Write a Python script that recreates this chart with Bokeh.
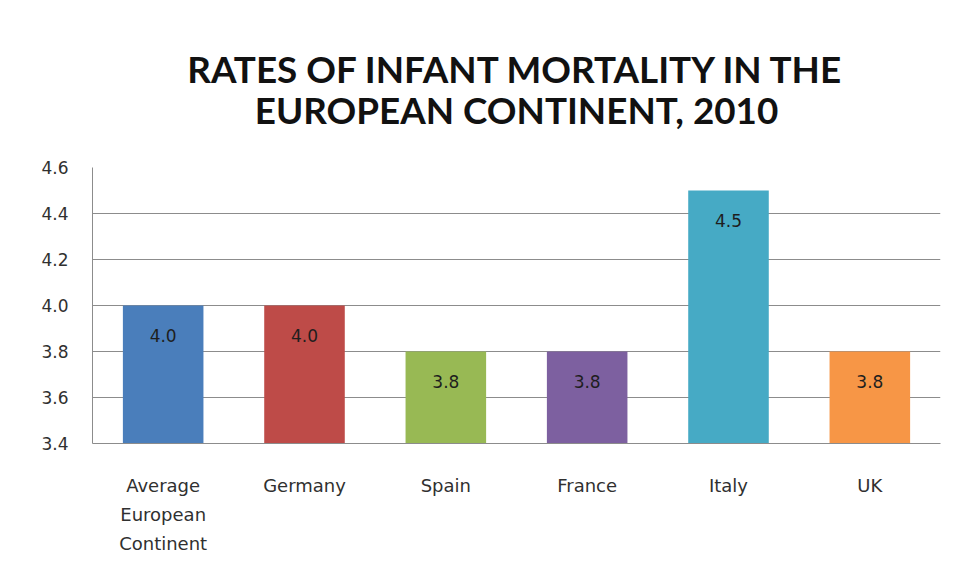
from bokeh.plotting import figure
from bokeh.models import ColumnDataSource, Title, FixedTicker, Range1d, LabelSet
from bokeh.core.properties import value
from bokeh.embed import file_html
from bokeh.resources import INLINE

categories = ["Average\nEuropean\nContinent", "Germany", "Spain", "France", "Italy", "UK"]
rates = [4.0, 4.0, 3.8, 3.8, 4.5, 3.8]
rate_labels = ["4.0", "4.0", "3.8", "3.8", "4.5", "3.8"]
colors = ["#4A7EBB", "#BE4B48", "#98B954", "#7D60A0", "#46AAC5", "#F79646"]
y_ticks = [3.4, 3.6, 3.8, 4.0, 4.2, 4.4, 4.6]
title_lines = ["RATES OF INFANT MORTALITY IN THE", "EUROPEAN CONTINENT, 2010"]

src = ColumnDataSource(dict(cat=categories, val=rates, lab=rate_labels, col=colors))

W, H = 948, 570
p = figure(x_range=categories, y_range=Range1d(3.4, 4.6),
           width=W, height=H, output_backend="svg", toolbar_location=None,
           min_border_left=92, min_border_right=8, min_border_top=167, min_border_bottom=127)

# spacer between frame and title block (closest to frame first)
p.add_layout(Title(text=" ", text_font="Lato", text_font_size="36.8px",
                   standoff=-9, vertical_align="middle"), "above")
for line in reversed(title_lines):
    p.add_layout(Title(text=line, align="center", vertical_align="middle",
                       text_font="Lato", text_font_size="36.8px",
                       text_font_style="bold", text_color="#111111",
                       standoff=-5, offset=0), "above")

p.vbar(x="cat", top="val", bottom=3.4, width=0.57, color="col", line_color=None, source=src)

labels = LabelSet(x="cat", y="val", text="lab", source=src, text_align="center",
                  text_baseline="middle", y_offset=-30, text_font_size="17px",
                  text_font=value("DejaVu Sans"), text_color="#1e1e1e")
p.add_layout(labels)

p.yaxis.ticker = FixedTicker(ticks=y_ticks)
p.yaxis.major_label_overrides = {t: f"{t:.1f}" for t in y_ticks}
p.yaxis.major_tick_line_color = None
p.yaxis.minor_tick_line_color = None
p.yaxis.axis_line_color = "#8c8c8c"
p.yaxis.major_label_text_font = "DejaVu Sans"
p.yaxis.major_label_text_font_size = "17px"
p.yaxis.major_label_text_color = "#303030"
p.yaxis.major_label_standoff = 18

p.xaxis.major_tick_line_color = None
p.xaxis.axis_line_color = "#8c8c8c"
p.xaxis.major_label_text_font = "DejaVu Sans"
p.xaxis.major_label_text_font_size = "18px"
p.xaxis.major_label_text_color = "#303030"
p.xaxis.major_label_text_line_height = 1.4
p.xaxis.major_label_standoff = 25

p.xgrid.grid_line_color = None
p.ygrid.grid_line_color = "#8c8c8c"
p.ygrid.grid_line_width = 1
p.outline_line_color = None
p.x_range.range_padding = 0

open("out.html", "w").write(file_html(p, INLINE))
